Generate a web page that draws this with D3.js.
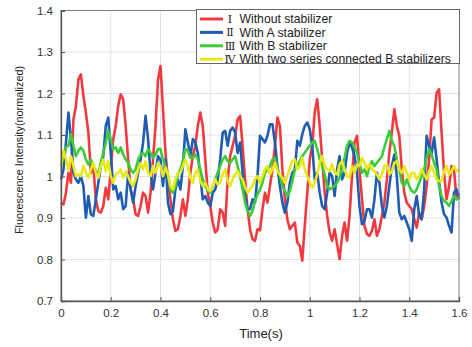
<!DOCTYPE html>
<html>
<head>
<meta charset="utf-8">
<script src="https://cdn.jsdelivr.net/npm/d3@7/dist/d3.min.js"></script>
<style>
  body { margin: 0; background: #fff; }
  text { font-family: "Liberation Sans", Arial, sans-serif; }
</style>
</head>
<body>
<div id="chart"></div>
<script>
// time axis (s), sampled every 0.01 s
var times = [
  0.00,0.01,0.02,0.03,0.04,0.05,0.06,0.07,0.08,0.09,
  0.10,0.11,0.12,0.13,0.14,0.15,0.16,0.17,0.18,0.19,
  0.20,0.21,0.22,0.23,0.24,0.25,0.26,0.27,0.28,0.29,
  0.30,0.31,0.32,0.33,0.34,0.35,0.36,0.37,0.38,0.39,
  0.40,0.41,0.42,0.43,0.44,0.45,0.46,0.47,0.48,0.49,
  0.50,0.51,0.52,0.53,0.54,0.55,0.56,0.57,0.58,0.59,
  0.60,0.61,0.62,0.63,0.64,0.65,0.66,0.67,0.68,0.69,
  0.70,0.71,0.72,0.73,0.74,0.75,0.76,0.77,0.78,0.79,
  0.80,0.81,0.82,0.83,0.84,0.85,0.86,0.87,0.88,0.89,
  0.90,0.91,0.92,0.93,0.94,0.95,0.96,0.97,0.98,0.99,
  1.00,1.01,1.02,1.03,1.04,1.05,1.06,1.07,1.08,1.09,
  1.10,1.11,1.12,1.13,1.14,1.15,1.16,1.17,1.18,1.19,
  1.20,1.21,1.22,1.23,1.24,1.25,1.26,1.27,1.28,1.29,
  1.30,1.31,1.32,1.33,1.34,1.35,1.36,1.37,1.38,1.39,
  1.40,1.41,1.42,1.43,1.44,1.45,1.46,1.47,1.48,1.49,
  1.50,1.51,1.52,1.53,1.54,1.55,1.56,1.57,1.58,1.59,
  1.60
];

// I  without stabilizer
var withoutStab = [
  0.937,0.933,0.961,1.009,0.985,1.138,1.170,1.234,1.246,1.194,
  1.154,1.106,1.009,1.025,0.945,0.917,0.913,0.929,0.973,0.945,
  1.017,1.090,1.122,1.170,1.198,1.186,1.122,1.041,0.969,0.945,
  0.909,0.905,0.929,0.961,0.953,0.913,0.961,1.041,1.122,1.234,
  1.266,1.162,1.057,0.993,0.945,0.897,0.869,0.873,0.905,0.945,
  0.905,0.945,1.009,1.049,1.074,1.122,1.154,1.122,1.041,0.961,
  0.929,0.889,0.865,0.873,0.921,0.913,0.881,0.993,1.049,1.074,
  1.098,1.138,1.146,1.074,0.993,0.921,0.873,0.849,0.845,0.873,
  0.870,0.921,0.961,0.937,0.977,1.017,1.074,1.142,1.122,1.017,
  0.945,0.897,0.873,0.881,0.889,0.841,0.833,0.797,0.881,0.961,
  1.041,1.074,1.154,1.186,1.122,1.041,0.961,0.905,0.865,0.845,
  0.873,0.837,0.801,0.857,0.889,0.845,0.905,1.001,1.082,1.098,
  1.017,0.945,0.881,0.861,0.857,0.869,0.897,0.857,0.873,0.905,
  0.937,0.993,1.057,1.106,1.162,1.122,1.098,1.017,0.961,0.937,
  0.929,0.921,0.897,0.877,0.913,0.897,0.929,0.977,1.041,1.138,
  1.142,1.202,1.210,1.106,1.009,0.945,0.977,1.025,1.017,0.945,
  0.960
];

// II  with A stabilizer
var withA = [
  0.993,1.017,1.082,1.154,1.090,1.009,0.993,0.985,1.001,0.977,
  0.901,0.953,0.909,0.905,0.945,0.985,1.025,1.049,1.122,1.142,
  1.057,0.969,0.977,0.945,0.961,0.921,0.929,1.009,0.969,0.937,
  0.977,1.009,1.041,1.082,1.146,1.090,1.009,0.969,1.009,1.049,
  1.041,0.977,1.041,0.937,0.909,0.917,0.969,0.993,0.969,1.025,
  1.114,1.082,1.049,1.090,1.082,1.057,1.001,0.945,0.953,0.937,
  0.929,0.961,0.969,0.993,1.041,1.106,1.110,1.074,1.110,1.118,
  1.106,1.057,1.082,1.009,0.953,0.921,0.921,0.945,0.937,1.001,
  1.098,1.090,1.082,1.098,1.126,1.126,1.082,1.025,0.977,0.937,
  0.913,0.937,0.985,1.009,1.017,1.086,1.074,1.102,1.122,1.130,
  1.114,1.074,0.993,1.009,0.961,0.929,0.921,0.961,1.009,1.001,
  0.953,1.017,1.049,0.993,1.009,1.057,1.082,1.070,1.049,1.009,
  0.929,0.885,0.893,0.921,0.921,0.901,0.945,1.009,0.985,0.929,
  0.901,0.929,0.977,1.025,1.053,1.001,0.913,0.897,0.905,0.889,
  0.873,0.845,0.921,0.953,0.905,0.897,0.969,1.098,1.074,1.057,
  1.094,1.041,0.985,0.937,0.909,0.901,0.881,0.865,0.961,0.969,
  0.945
];

// III  with B stabilizer
var withB = [
  1.025,1.049,1.070,1.074,1.102,1.074,1.049,1.062,1.070,1.062,
  1.041,1.029,1.041,1.025,1.013,1.005,1.033,1.057,1.082,1.110,
  1.090,1.066,1.070,1.057,1.070,1.053,1.041,1.033,1.017,1.009,
  1.017,1.041,1.053,1.057,1.049,1.066,1.057,1.045,1.053,1.066,
  1.066,1.041,1.025,1.005,0.969,0.961,0.977,1.005,1.017,1.037,
  1.066,1.062,1.045,1.045,1.053,1.041,1.017,0.993,0.977,0.965,
  0.961,0.977,0.993,1.009,1.025,1.041,1.049,1.037,1.033,1.041,
  1.049,1.025,1.001,0.969,0.937,0.917,0.905,0.917,0.941,0.957,
  0.969,0.985,1.009,1.017,1.025,1.041,1.045,1.021,1.001,0.977,
  0.965,0.953,0.965,0.989,1.017,1.025,1.037,1.049,1.057,1.066,
  1.074,1.082,1.086,1.066,1.041,1.025,1.005,0.977,0.969,0.973,
  0.977,0.985,0.997,1.025,1.045,1.074,1.086,1.082,1.070,1.057,
  1.033,1.009,1.017,1.001,1.025,1.037,1.025,1.033,1.041,1.049,
  1.070,1.090,1.110,1.086,1.074,1.041,1.017,0.985,0.977,0.993,
  0.977,0.965,0.961,0.969,0.985,1.001,1.017,1.045,1.066,1.053,
  1.033,1.017,0.977,0.953,0.941,0.937,0.929,0.941,0.953,0.945,
  0.949
];

// IV  with two series connected B stabilizers
var withTwoB = [
  1.025,1.062,1.041,1.017,1.049,1.025,1.001,1.005,1.001,1.025,
  1.009,0.997,1.017,1.033,1.009,0.997,1.025,1.041,1.013,1.037,
  1.001,0.985,1.005,1.009,1.017,0.997,1.013,1.001,0.985,0.977,
  0.993,1.017,1.033,1.017,1.037,1.009,1.001,1.025,1.009,1.033,
  1.025,1.001,1.021,1.005,0.977,0.969,0.993,1.009,1.009,1.025,
  1.041,1.025,0.997,0.985,1.009,1.017,0.989,0.977,0.985,0.969,
  0.965,0.977,0.993,0.981,0.985,1.005,1.017,0.989,0.977,0.993,
  1.005,1.013,1.001,0.993,0.973,0.961,0.969,0.977,0.993,1.001,
  0.985,1.001,1.017,1.025,1.005,1.017,1.033,1.013,1.005,0.997,
  0.985,1.001,1.021,1.037,1.041,1.017,1.025,1.045,1.017,1.001,
  0.985,0.973,0.985,1.005,1.033,1.049,1.025,1.017,1.013,1.029,
  1.009,1.005,1.029,1.037,1.017,1.001,0.997,1.025,1.009,1.029,
  1.025,1.045,1.033,1.017,1.029,1.017,1.013,1.005,0.993,1.005,
  1.025,1.029,1.005,1.013,1.033,1.037,1.017,1.009,1.025,1.009,
  0.993,1.009,1.009,0.993,1.001,1.017,1.005,0.993,1.013,1.025,
  1.009,0.993,0.989,0.989,1.013,1.025,1.005,1.013,1.025,1.013,
  1.017
];

var xTicks = [0, 0.2, 0.4, 0.6, 0.8, 1, 1.2, 1.4, 1.6];
var yTicks = [0.7, 0.8, 0.9, 1, 1.1, 1.2, 1.3, 1.4];

var seriesNames = ["Ⅰ", "Ⅱ", "Ⅲ", "Ⅳ"];
var seriesLabels = [
  "Without stabilizer",
  "With A stabilizer",
  "With B stabilizer",
  "With two series connected B stabilizers"
];
var seriesValues = [withoutStab, withA, withB, withTwoB];
var seriesColors = ["#f23a3e", "#1f5cb2", "#3ccb3a", "#e8e81a"];

var width = 472, height = 347;
var plotLeft = 61, plotRight = 459, plotTop = 10.5, plotBottom = 301;

var svg = d3.select("#chart").append("svg")
  .attr("width", width)
  .attr("height", height);

var x = d3.scaleLinear().domain([0, 1.6]).range([plotLeft, plotRight]);
var y = d3.scaleLinear().domain([0.7, 1.4]).range([plotBottom, plotTop]);

// grid
svg.append("g")
  .selectAll("line")
  .data(xTicks.slice(1, -1))
  .enter().append("line")
  .attr("x1", d => x(d)).attr("x2", d => x(d))
  .attr("y1", plotTop).attr("y2", plotBottom)
  .attr("stroke", "#e3e3e3").attr("stroke-width", 1);

svg.append("g")
  .selectAll("line")
  .data(yTicks.slice(1, -1))
  .enter().append("line")
  .attr("x1", plotLeft).attr("x2", plotRight)
  .attr("y1", d => y(d)).attr("y2", d => y(d))
  .attr("stroke", "#e3e3e3").attr("stroke-width", 1);

// lines
var line = d3.line()
  .x((d, i) => x(times[i]))
  .y(d => y(d));

svg.append("g")
  .selectAll("path")
  .data(seriesValues)
  .enter().append("path")
  .attr("d", d => line(d))
  .attr("fill", "none")
  .attr("stroke", (d, i) => seriesColors[i])
  .attr("stroke-width", 2.6)
  .attr("stroke-linejoin", "round");

// frame
svg.append("rect")
  .attr("x", plotLeft).attr("y", plotTop)
  .attr("width", plotRight - plotLeft).attr("height", plotBottom - plotTop)
  .attr("fill", "none")
  .attr("stroke", "#7a7a7a").attr("stroke-width", 1);

// axes
var xAxis = d3.axisBottom(x).tickValues(xTicks).tickSize(-4).tickPadding(8)
  .tickFormat(d3.format("~g"));
var yAxis = d3.axisLeft(y).tickValues(yTicks).tickSize(-4).tickPadding(8)
  .tickFormat(d3.format("~g"));

var gx = svg.append("g").attr("transform", "translate(0," + plotBottom + ")").call(xAxis);
var gy = svg.append("g").attr("transform", "translate(" + plotLeft + ",0)").call(yAxis);

[gx, gy].forEach(g => {
  g.select(".domain").attr("stroke", "#555").attr("stroke-width", 1.3);
  g.selectAll(".tick line").attr("stroke", "#555");
  g.selectAll(".tick text")
    .attr("fill", "#333")
    .style("font-size", "11.5px")
    .style("font-family", "'Liberation Sans', Arial, sans-serif");
});

// axis titles
svg.append("text")
  .attr("x", (plotLeft + plotRight) / 2 + 1)
  .attr("y", 338)
  .attr("text-anchor", "middle")
  .attr("fill", "#222")
  .style("font-size", "13px")
  .text("Time(s)");

svg.append("text")
  .attr("transform", "translate(23,150) rotate(-90)")
  .attr("text-anchor", "middle")
  .attr("fill", "#222")
  .style("font-size", "10.8px")
  .text("Fluorescence Intensity(normalized)");

// legend
var lg = svg.append("g");
lg.append("rect")
  .attr("x", 196.5).attr("y", 9.5)
  .attr("width", 263).attr("height", 54)
  .attr("fill", "#fff")
  .attr("stroke", "#666").attr("stroke-width", 1);

var rows = lg.selectAll("g")
  .data(seriesLabels)
  .enter().append("g")
  .attr("transform", (d, i) => "translate(0," + (19 + i * 13.4) + ")");

rows.append("line")
  .attr("x1", 200).attr("x2", 223)
  .attr("y1", 0).attr("y2", 0)
  .attr("stroke", (d, i) => seriesColors[i])
  .attr("stroke-width", 3);

rows.append("text")
  .attr("x", 230).attr("y", 4)
  .attr("text-anchor", "middle")
  .attr("fill", "#222")
  .style("font-size", "11px")
  .style("font-family", "'DejaVu Serif', serif")
  .text((d, i) => seriesNames[i]);

rows.append("text")
  .attr("x", 239.5).attr("y", 4.2)
  .attr("fill", "#222")
  .style("font-size", "12.2px")
  .text(d => d);
</script>
</body>
</html>
